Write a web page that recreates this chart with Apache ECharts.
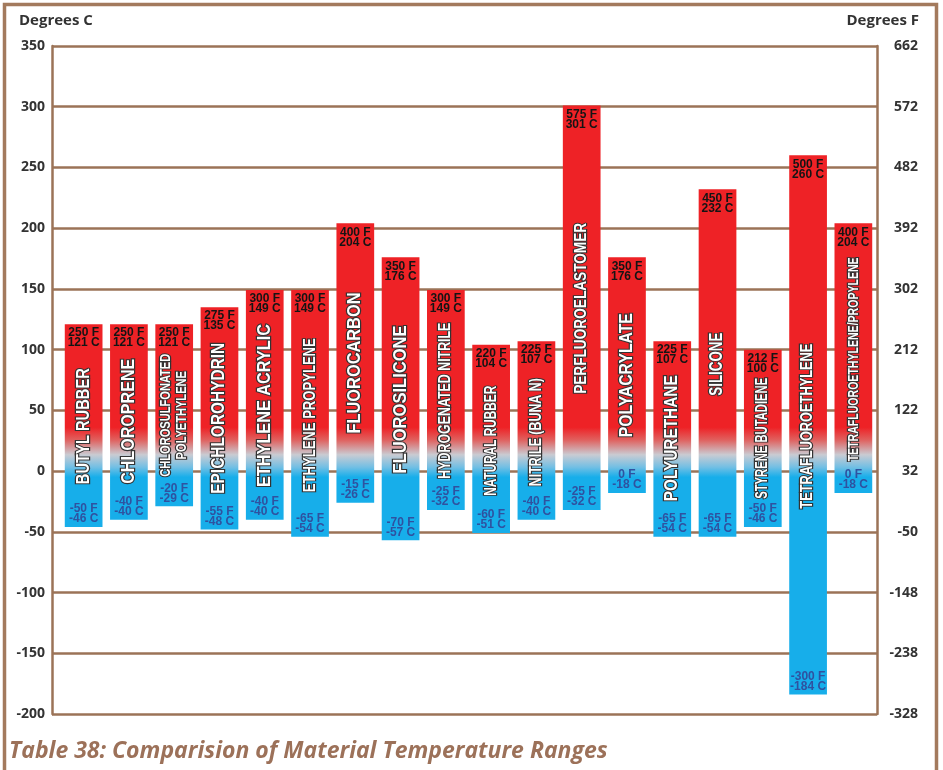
<!DOCTYPE html>
<html>
<head>
<meta charset="utf-8">
<script src="https://cdn.jsdelivr.net/npm/echarts@6/dist/echarts.min.js"></script>
<style>
  html, body { margin: 0; padding: 0; background: #ffffff; }
  #chart { width: 943px; height: 770px; }
</style>
</head>
<body>
<div id="chart"></div>
<script>
// Elastomer service temperature ranges
const materials = [
  'BUTYL RUBBER', 'CHLOROPRENE', 'CHLOROSULFONATED\nPOLYETHYLENE', 'EPICHLOROHYDRIN',
  'ETHYLENE ACRYLIC', 'ETHYLENE PROPYLENE', 'FLUOROCARBON', 'FLUOROSILICONE',
  'HYDROGENATED NITRILE', 'NATURAL RUBBER', 'NITRILE (BUNA N)', 'PERFLUOROELASTOMER',
  'POLYACRYLATE', 'POLYURETHANE', 'SILICONE', 'STYRENE BUTADIENE',
  'TETRAFLUOROETHYLENE', 'TETRAFLUOROETHYLENE/PROPYLENE'
];
const maxTempC = [121, 121, 121, 135, 149, 149, 204, 176, 149, 104, 107, 301, 176, 107, 232, 100, 260, 204];
const minTempC = [-46, -40, -29, -48, -40, -54, -26, -57, -32, -51, -40, -32, -18, -54, -54, -46, -184, -18];
const maxTempF = [250, 250, 250, 275, 300, 300, 400, 350, 300, 220, 225, 575, 350, 225, 450, 212, 500, 400];
const minTempF = [-50, -40, -20, -55, -40, -65, -15, -70, -25, -60, -40, -25, 0, -65, -65, -50, -300, 0];

// Celsius axis range and the Fahrenheit labels shown beside each Celsius tick
const axisMinC = -200;
const axisMaxC = 350;
const axisStepC = 50;
const fahrenheitTicks = ['-328', '-238', '-148', '-50', '32', '122', '212', '302', '392', '482', '572', '662'];

// Placement of the vertical material names: [centre in °C, drawn length px, font size]
const nameLayout = [
  [37, 116, 18], [41, 125, 18], [46, 123, 15], [43.5, 151, 18],
  [54, 163, 18], [46, 154, 17], [89, 141, 18], [59, 148, 18],
  [58, 156, 16], [25, 110, 16], [32, 108, 16], [134, 171, 17],
  [79, 124, 18], [27, 126, 18], [88, 63, 18], [27, 121, 16],
  [37, 165, 16], [92, 204, 15]
];

const BROWN = '#9b7357';
const RED = '#ee2226';
const BLUE = '#17aeea';
const NAME_FONT = "'Liberation Sans Narrow', 'Liberation Sans', Arial, sans-serif";
const VALUE_FONT = "'Liberation Sans', Arial, sans-serif";
const AXIS_FONT = "'Open Sans', 'DejaVu Sans', sans-serif";

const measureCtx = document.createElement('canvas').getContext('2d');
function widestLine(text, font) {
  measureCtx.font = font;
  return Math.max.apply(null, text.split('\n').map(function (s) { return measureCtx.measureText(s).width; }));
}

const barData = materials.map(function (name, i) { return [i, maxTempC[i], minTempC[i]]; });

function renderBar(params, api) {
  const i = api.value(0);
  const hi = api.value(1);
  const lo = api.value(2);
  const top = api.coord([i, hi]);
  const bottom = api.coord([i, lo]);
  const band = api.size([1, 0])[0];
  const w = band * 0.833;
  const cx = top[0];

  // Colour follows absolute temperature: hot red fades through grey to cold blue
  const yHot = api.coord([i, 36])[1];
  const yCold = api.coord([i, -5])[1];
  const fill = new echarts.graphic.LinearGradient(0, yHot, 0, yCold, [
    { offset: 0, color: RED },
    { offset: 0.25, color: '#e0605e' },
    { offset: 0.55, color: '#c9cbd2' },
    { offset: 0.8, color: '#72bfe4' },
    { offset: 1, color: BLUE }
  ], true);

  const layout = nameLayout[params.dataIndex];
  const nameText = materials[params.dataIndex];
  const nameFont = 'bold ' + layout[2] + 'px ' + NAME_FONT;
  const natural = widestLine(nameText, nameFont);
  const nameY = api.coord([i, layout[0]])[1];

  return {
    type: 'group',
    children: [
      {
        type: 'rect',
        shape: { x: cx - w / 2, y: top[1], width: w, height: bottom[1] - top[1] },
        style: { fill: fill }
      },
      {
        type: 'text',
        x: cx, y: top[1] + 4,
        style: {
          text: maxTempF[params.dataIndex] + ' F\n' + maxTempC[params.dataIndex] + ' C',
          font: 'bold 12px ' + VALUE_FONT,
          lineHeight: 10,
          fill: '#141414',
          align: 'center',
          verticalAlign: 'top'
        }
      },
      {
        type: 'text',
        x: cx, y: bottom[1] - 3,
        style: {
          text: minTempF[params.dataIndex] + ' F\n' + minTempC[params.dataIndex] + ' C',
          font: 'bold 12px ' + VALUE_FONT,
          lineHeight: 10,
          fill: '#2f52a0',
          align: 'center',
          verticalAlign: 'bottom'
        }
      },
      {
        type: 'text',
        x: cx, y: nameY,
        rotation: Math.PI / 2,
        scaleX: layout[1] / natural,
        scaleY: 1,
        style: {
          text: nameText,
          font: nameFont,
          lineHeight: layout[2] + 1,
          fill: '#ffffff',
          stroke: '#333333',
          lineWidth: 2.4,
          align: 'center',
          verticalAlign: 'middle'
        }
      }
    ]
  };
}

const chart = echarts.init(document.getElementById('chart'), null, { renderer: 'canvas' });

chart.setOption({
  animation: false,
  backgroundColor: '#ffffff',
  graphic: [
    {
      type: 'rect',
      shape: { x: 4.5, y: 4.5, width: 932, height: 820 },
      style: { fill: 'none', stroke: '#a37a5d', lineWidth: 3.5 },
      silent: true
    },
    {
      type: 'text', x: 19, y: 21,
      style: { text: 'Degrees C', font: 'bold 15px ' + AXIS_FONT, fill: '#333333', verticalAlign: 'middle' }
    },
    {
      type: 'text', x: 919, y: 21,
      style: { text: 'Degrees F', font: 'bold 15px ' + AXIS_FONT, fill: '#333333', align: 'right', verticalAlign: 'middle' }
    },
    {
      type: 'text', x: 9, y: 751,
      style: {
        text: 'Table 38: Comparision of Material Temperature Ranges',
        font: 'italic bold 23px ' + AXIS_FONT,
        fill: '#9c7159',
        verticalAlign: 'middle'
      }
    }
  ],
  grid: [
    { left: 52, right: 66, top: 46, bottom: 56 },
    { left: 61, right: 67, top: 46, bottom: 56 }
  ],
  xAxis: [
    { type: 'value', gridIndex: 0, show: false, min: 0, max: 1 },
    { type: 'category', gridIndex: 1, show: false, data: materials, boundaryGap: true }
  ],
  yAxis: [
    {
      type: 'value', gridIndex: 0, position: 'left',
      min: axisMinC, max: axisMaxC, interval: axisStepC,
      axisLine: { show: true, lineStyle: { color: BROWN, width: 2.5 } },
      axisTick: { show: false },
      axisLabel: { margin: 7, color: '#333333', fontSize: 14, fontWeight: 'bold', fontFamily: AXIS_FONT },
      splitLine: { show: true, lineStyle: { color: BROWN, width: 2.5 } }
    },
    {
      type: 'value', gridIndex: 0, position: 'right',
      min: axisMinC, max: axisMaxC, interval: axisStepC,
      axisLine: { show: true, lineStyle: { color: BROWN, width: 2.5 } },
      axisTick: { show: false },
      axisLabel: {
        margin: 41, align: 'right', color: '#333333', fontSize: 14, fontWeight: 'bold', fontFamily: AXIS_FONT,
        formatter: function (v) { return fahrenheitTicks[Math.round((v - axisMinC) / axisStepC)]; }
      },
      splitLine: { show: false }
    },
    {
      type: 'value', gridIndex: 1, show: false,
      min: axisMinC, max: axisMaxC, interval: axisStepC,
      splitLine: { show: false }
    }
  ],
  series: [
    {
      type: 'custom',
      xAxisIndex: 1,
      yAxisIndex: 2,
      renderItem: renderBar,
      encode: { x: 0, y: [1, 2] },
      data: barData,
      clip: false
    }
  ]
});
</script>
</body>
</html>
